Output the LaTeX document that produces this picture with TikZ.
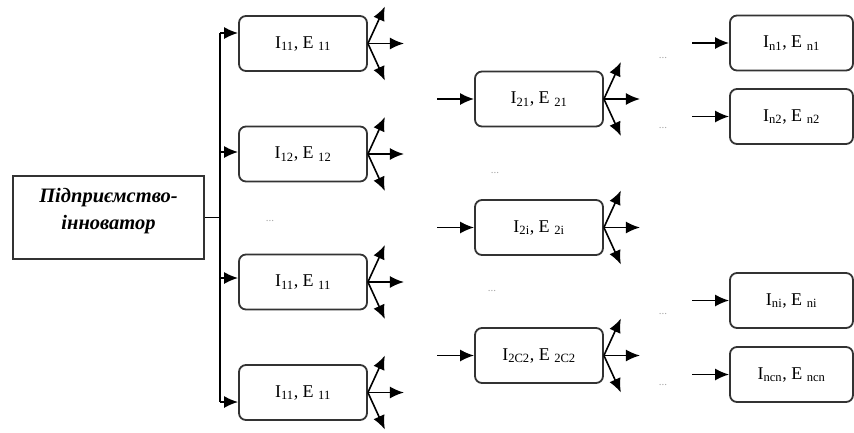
\documentclass[tikz,border=0pt]{standalone}
\usepackage{fontspec}
\setmainfont{Liberation Serif}
\usepackage{tikz}
\usetikzlibrary{positioning,arrows.meta}
\tikzset{
  stage/.style={draw=black!80, line width=1.8pt, rounded corners=7pt, minimum width=128pt, minimum height=55pt, inner sep=0pt, font=\fontsize{18}{18}\selectfont},
  firm/.style={draw=black!80, line width=1.8pt, minimum width=191pt, minimum height=83pt},
  firmtext/.style={align=center, font=\fontsize{20.5}{27}\selectfont\bfseries\itshape},
  arr/.style={-{Latex[length=14pt,width=12pt]}, line width=1.6pt},
  gap/.style={text=black!35, font=\fontsize{11}{11}\selectfont}
}
\newcommand{\lbl}[2]{I\textsubscript{#1}, E \textsubscript{#2}}

\begin{document}
\begin{tikzpicture}[x=1pt, y=-1pt]
\useasboundingbox (0,0) rectangle (854,432);
% enterprise
\node[firm, label={[firmtext, yshift=6pt]center:Підприємство-\\інноватор}] (inn) at (108.5,217.5) {};
% first stage
\node[stage] (b11) at (303,43.5) {\lbl{11}{11}};
\node[stage] (b12) at (303,154) {\lbl{12}{12}};
\node[stage] (b1i) at (303,282) {\lbl{11}{11}};
\node[stage] (b1c) at (303,392.5) {\lbl{11}{11}};
% trunk
\coordinate (t1) at (220,33);
\coordinate (t2) at (220,152);
\coordinate (t3) at (220,278);
\coordinate (t4) at (220,402);
\draw[line width=1.6pt] (inn.east) -- (inn.east -| t1);
\draw[line width=1.6pt] (t1) -- (t4);
\draw[arr] (t1) -- (t1 -| b11.west);
\draw[arr] (t2) -- (t2 -| b12.west);
\draw[arr] (t3) -- (t3 -| b1i.west);
\draw[arr] (t4) -- (t4 -| b1c.west);
% second stage
\node[stage] (b21) at (539,99) {\lbl{21}{21}};
\node[stage] (b2i) at (539,227.5) {\lbl{2i}{2i}};
\node[stage] (b2c) at (539,355.5) {\lbl{2C2}{2C2}};
% last stage
\node[stage, minimum width=123pt] (bn1) at (791.5,43) {\lbl{n1}{n1}};
\node[stage, minimum width=123pt] (bn2) at (791.5,116.5) {\lbl{n2}{n2}};
\node[stage, minimum width=123pt] (bni) at (791.5,300.5) {\lbl{ni}{ni}};
\node[stage, minimum width=123pt] (bnc) at (791.5,374.5) {\lbl{ncn}{ncn}};
% inputs
\foreach \b in {b21,b2i,b2c,bn1,bn2,bni,bnc}{
  \coordinate (\b-in) at ([xshift=-37pt]\b.west);
  \draw[arr] (\b-in) -- (\b.west);
}
% fan-outs
\foreach \b in {b11,b12,b1i,b1c,b21,b2i,b2c}{
  \draw[arr] (\b.east) -- ++(17,-37);
  \draw[arr] (\b.east) -- ++(36,0);
  \draw[arr] (\b.east) -- ++(17,37);
}
% gaps
\node[gap] (g1) at (270,221) {...};
\node[gap] (g2) at (495,173) {...};
\node[gap] (g3) at (492,291) {...};
\node[gap] (g4) at (663,58) {...};
\node[gap] (g5) at (663,128) {...};
\node[gap] (g6) at (663,314) {...};
\node[gap] (g7) at (663,385) {...};
\end{tikzpicture}
\end{document}
